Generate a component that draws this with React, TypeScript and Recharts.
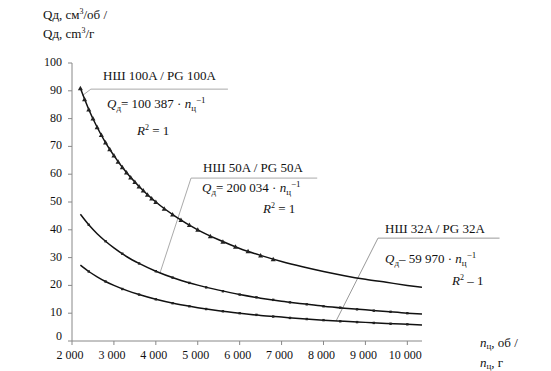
import React from 'react';
import { ComposedChart, Line, Scatter, XAxis, YAxis, ReferenceLine } from 'recharts';

// rotational speed n, rpm (trend curve sample points)
const rpm = [2200, 2400, 2600, 2800, 3000, 3300, 3600, 4000, 4500, 5000, 5500, 6000, 6500, 7000, 7500, 8000, 8500, 9000, 9500, 10000, 10350];
// top curve (labelled НШ 100A / PG 100A)
const qTop = [90.9, 83.3, 76.9, 71.4, 66.7, 60.6, 55.6, 50.0, 44.5, 40.0, 36.4, 33.3, 30.8, 28.6, 26.7, 25.0, 23.5, 22.2, 21.1, 20.0, 19.3];
// middle curve (labelled НШ 50A / PG 50A)
const qMid = [45.6, 41.8, 38.6, 35.9, 33.5, 30.4, 27.9, 25.1, 22.3, 20.1, 18.3, 16.7, 15.4, 14.3, 13.4, 12.5, 11.8, 11.2, 10.6, 10.0, 9.7];
// bottom curve (labelled НШ 32A / PG 32A)
const qLow = [27.3, 25.0, 23.1, 21.4, 20.0, 18.2, 16.7, 15.0, 13.3, 12.0, 10.9, 10.0, 9.2, 8.6, 8.0, 7.5, 7.1, 6.7, 6.3, 6.0, 5.8];

// measured points on top curve (triangles)
const rpmTopPts = [2200, 2300, 2400, 2500, 2600, 2700, 2800, 2900, 3000, 3100, 3200, 3300, 3400, 3500, 3600, 3700, 3800, 3900, 4000, 4200, 4400, 4600, 4800, 5000, 5300, 5600, 5900, 6200, 6500, 6800];
const qTopPts = [90.9, 87.0, 83.3, 80.0, 76.9, 74.1, 71.4, 69.0, 66.7, 64.5, 62.5, 60.6, 58.8, 57.2, 55.6, 54.1, 52.6, 51.3, 50.0, 47.6, 45.5, 43.5, 41.7, 40.0, 37.7, 35.7, 33.9, 32.3, 30.8, 29.4];
// measured points on middle and bottom curves (small dots)
const rpmPts = [2400, 2800, 3200, 3600, 4000, 4400, 4800, 5200, 5600, 6000, 6400, 6800, 7200, 7600, 8000, 8400, 8800, 9200, 9600, 10000];
const qMidPts = [41.8, 35.9, 31.4, 27.9, 25.1, 22.8, 20.9, 19.3, 17.9, 16.7, 15.7, 14.8, 13.9, 13.2, 12.5, 12.0, 11.4, 10.9, 10.5, 10.0];
const qLowPts = [25.0, 21.4, 18.7, 16.7, 15.0, 13.6, 12.5, 11.5, 10.7, 10.0, 9.4, 8.8, 8.3, 7.9, 7.5, 7.1, 6.8, 6.5, 6.2, 6.0];

const xTicks = [2000, 3000, 4000, 5000, 6000, 7000, 8000, 9000, 10000];
const yTicks = [0, 10, 20, 30, 40, 50, 60, 70, 80, 90, 100];

const topData = rpm.map((n, i) => ({ n, q: qTop[i] }));
const midData = rpm.map((n, i) => ({ n, q: qMid[i] }));
const lowData = rpm.map((n, i) => ({ n, q: qLow[i] }));
const topPts = rpmTopPts.map((n, i) => ({ n, q: qTopPts[i] }));
const midPts = rpmPts.map((n, i) => ({ n, q: qMidPts[i] }));
const lowPts = rpmPts.map((n, i) => ({ n, q: qLowPts[i] }));

const FONT = '"Liberation Serif", "Times New Roman", Times, "DejaVu Serif", "Noto Serif", serif';
const TS: React.CSSProperties = { fontFamily: FONT };
const fmt = (v: number) => (v >= 1000 ? `${Math.floor(v / 1000)} ${String(v % 1000).padStart(3, '0')}` : String(v));

const Dot = (props: any) => {
  const { cx, cy } = props;
  if (cx == null || cy == null) return null;
  return <rect x={cx - 1.2} y={cy - 1.2} width={2.4} height={2.4} fill="#222" />;
};
const Tri = (props: any) => {
  const { cx, cy } = props;
  if (cx == null || cy == null) return null;
  return <path d={`M${cx},${cy - 2.5} L${cx + 2.5},${cy + 2} L${cx - 2.5},${cy + 2} Z`} fill="#222" />;
};

const XTick = (props: any) => {
  const { x, y, payload } = props;
  return (
    <text x={x - 2} y={y + 11} textAnchor="middle" style={TS} fontSize={12} fill="#111">
      {fmt(payload.value)}
    </text>
  );
};
const YTick = (props: any) => {
  const { x, y, payload } = props;
  const shift = payload.value === 0 ? -5 : -1;
  return (
    <text x={x} y={y + shift + 4} textAnchor="end" style={TS} fontSize={12} fill="#111">
      {payload.value}
    </text>
  );
};

const Formula = ({ x, y, k, dash }: { x: number; y: number; k: string; dash?: boolean }) => (
  <text x={x} y={y} style={TS} fontSize={13} fill="#111">
    <tspan fontStyle="italic">Q</tspan>
    <tspan fontSize={9} dy={3}>д</tspan>
    <tspan dy={-3}>{dash ? '– ' : '= '}{k} · </tspan>
    <tspan fontStyle="italic">n</tspan>
    <tspan fontSize={9} dy={3}>ц</tspan>
    <tspan fontSize={9} dy={-8}>−1</tspan>
  </text>
);
const R2 = ({ x, y, dash }: { x: number; y: number; dash?: boolean }) => (
  <text x={x} y={y} style={TS} fontSize={13} fill="#111">
    <tspan fontStyle="italic">R</tspan>
    <tspan fontSize={8} dy={-5}>2</tspan>
    <tspan dy={5}>{dash ? ' – 1' : ' = 1'}</tspan>
  </text>
);

export default function App() {
  return (
    <div style={{ position: 'absolute', left: 0, top: 0, width: 551, height: 371, background: '#fff', fontFamily: FONT }}>
      <ComposedChart width={551} height={371} margin={{ top: 63, right: 129, bottom: 0, left: 0 }}>
        <XAxis
          type="number"
          dataKey="n"
          domain={[2000, 10350]}
          ticks={xTicks}
          height={30}
          tickSize={4}
          tickMargin={3}
          allowDataOverflow
          stroke="#888"
          tick={<XTick />}
        />
        <YAxis
          type="number"
          dataKey="q"
          domain={[0, 100]}
          ticks={yTicks}
          width={72}
          tickSize={4}
          tickMargin={6}
          stroke="#888"
          tick={<YTick />}
        />
        <ReferenceLine segment={[{ x: 2250, y: 88.3 }, { x: 2450, y: 90.6 }]} stroke="#aaa" ifOverflow="visible" />
        <ReferenceLine segment={[{ x: 2450, y: 90.6 }, { x: 5720, y: 90.6 }]} stroke="#aaa" ifOverflow="visible" />
        <ReferenceLine segment={[{ x: 4100, y: 24.5 }, { x: 4840, y: 58.6 }]} stroke="#aaa" ifOverflow="visible" />
        <ReferenceLine segment={[{ x: 4840, y: 58.6 }, { x: 7850, y: 58.6 }]} stroke="#aaa" ifOverflow="visible" />
        <ReferenceLine segment={[{ x: 8300, y: 7.2 }, { x: 9300, y: 37.0 }]} stroke="#999" ifOverflow="visible" />
        <ReferenceLine segment={[{ x: 9300, y: 37.0 }, { x: 12200, y: 37.0 }]} stroke="#999" ifOverflow="visible" />
        <Line data={topData} dataKey="q" type="monotone" stroke="#111" strokeWidth={1.5} dot={false} isAnimationActive={false} />
        <Line data={midData} dataKey="q" type="monotone" stroke="#111" strokeWidth={1.5} dot={false} isAnimationActive={false} />
        <Line data={lowData} dataKey="q" type="monotone" stroke="#111" strokeWidth={1.5} dot={false} isAnimationActive={false} />
        <Scatter data={topPts} dataKey="q" shape={<Tri />} isAnimationActive={false} />
        <Scatter data={midPts} dataKey="q" shape={<Dot />} isAnimationActive={false} />
        <Scatter data={lowPts} dataKey="q" shape={<Dot />} isAnimationActive={false} />
      </ComposedChart>
      <svg width={551} height={371} style={{ position: 'absolute', left: 0, top: 0, pointerEvents: 'none' }}>
        <text x={43} y={19} style={TS} fontSize={13} fill="#111">
          Qд, см<tspan fontSize={8} dy={-5}>3</tspan><tspan dy={5}>/об /</tspan>
        </text>
        <text x={43} y={38} style={TS} fontSize={13} fill="#111">
          Qд, cm<tspan fontSize={8} dy={-5}>3</tspan><tspan dy={5}>/г</tspan>
        </text>
        <text x={103} y={80} style={TS} fontSize={13} fill="#111">НШ 100A / PG 100A</text>
        <Formula x={107} y={108} k="100 387" />
        <R2 x={137} y={135} />
        <text x={203} y={172} style={TS} fontSize={13} fill="#111">НШ 50A / PG 50A</text>
        <Formula x={202} y={192} k="200 034" />
        <R2 x={263} y={213} />
        <text x={385} y={233} style={TS} fontSize={13} fill="#111">НШ 32A / PG 32A</text>
        <Formula x={385} y={263} k="59 970" dash />
        <R2 x={452} y={285} dash />
        <text x={480} y={347} style={TS} fontSize={13} fill="#111">
          <tspan fontStyle="italic">n</tspan><tspan fontSize={9} dy={2}>ц</tspan><tspan dy={-2}>, об /</tspan>
        </text>
        <text x={480} y={367} style={TS} fontSize={13} fill="#111">
          <tspan fontStyle="italic">n</tspan><tspan fontSize={9} dy={2}>ц</tspan><tspan dy={-2}>, г</tspan>
        </text>
      </svg>
    </div>
  );
}
